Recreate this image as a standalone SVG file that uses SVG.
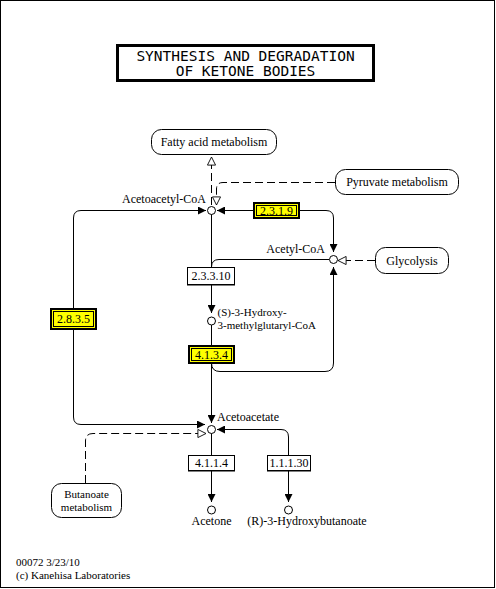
<svg xmlns="http://www.w3.org/2000/svg" width="496" height="589" viewBox="0 0 496 589">
<style>
text{font-family:"Liberation Serif","Times New Roman",serif;font-size:12px;fill:#000}
.t{font-family:"DejaVu Sans Mono","Liberation Mono",monospace;font-size:14.5px}
.s{font-size:11px}
.c{text-anchor:middle}
.e{text-anchor:end}
.ln{fill:none;stroke:#000;stroke-width:1}
.ds{fill:none;stroke:#000;stroke-width:1;stroke-dasharray:8,4}
.cp{fill:#fff;stroke:#000;stroke-width:1}
.map{fill:#fff;stroke:#000;stroke-width:1}
.ez{fill:#fff;stroke:#000;stroke-width:1}
.ey{fill:#ffff00;stroke:#000;stroke-width:2}
.ei{fill:none;stroke:#000;stroke-width:1}
</style>
<defs>
<marker id="af" viewBox="0 0 10 10" refX="10" refY="5" markerWidth="8" markerHeight="8" markerUnits="userSpaceOnUse" orient="auto"><path d="M0,0 L10,5 L0,10 z" fill="#000"/></marker>
<marker id="ao" viewBox="0 0 10 10" refX="9.5" refY="5" markerWidth="9" markerHeight="9" markerUnits="userSpaceOnUse" orient="auto"><path d="M0.5,0.5 L9.5,5 L0.5,9.5 z" fill="#fff" stroke="#000" stroke-width="1"/></marker>
</defs>
<rect x="0.5" y="0.5" width="494" height="587" fill="#fff" stroke="#000"/>
<g id="title">
<rect x="117.5" y="45.5" width="256" height="35" fill="#fff" stroke="#000" stroke-width="3"/>
<text class="t c" x="245.5" y="61">SYNTHESIS AND DEGRADATION</text>
<text class="t c" x="245.5" y="76">OF KETONE BODIES</text>
</g>
<g id="connectors">
<path class="ln" d="M253,210.5 L217,210.5" marker-end="url(#af)"/>
<path class="ln" d="M300,210.5 L326,210.5 Q333.5,210.5 333.5,218 L333.5,252" marker-end="url(#af)"/>
<path class="ln" d="M73.5,308 L73.5,218 Q73.5,210.5 81,210.5 L206,210.5" marker-end="url(#af)"/>
<path class="ln" d="M73.5,330 L73.5,417 Q73.5,424.5 81,424.5 L205,424.5" marker-end="url(#af)"/>
<path class="ln" d="M211.5,214 L211.5,267"/>
<path class="ln" d="M329,259.5 L219,259.5 Q211.5,259.5 211.5,267"/>
<path class="ln" d="M211.5,285 L211.5,313" marker-end="url(#af)"/>
<path class="ln" d="M211.5,325 L211.5,345"/>
<path class="ln" d="M211.5,363 L211.5,423" marker-end="url(#af)"/>
<path class="ln" d="M211.5,363 Q211.5,371.5 220,371.5 L325,371.5 Q333.5,371.5 333.5,363 L333.5,267" marker-end="url(#af)"/>
<path class="ln" d="M211.5,433 L211.5,455"/>
<path class="ln" d="M211.5,471 L211.5,502" marker-end="url(#af)"/>
<path class="ln" d="M288.5,455 L288.5,437 Q288.5,429.5 281,429.5 L217,429.5" marker-end="url(#af)"/>
<path class="ln" d="M288.5,471 L288.5,502" marker-end="url(#af)"/>
<path class="ds" d="M211.5,205 L211.5,157" marker-end="url(#ao)"/>
<path class="ds" d="M335,182.5 L223,182.5 Q216.5,182.5 216.5,189 L216.5,205" marker-end="url(#ao)"/>
<path class="ds" d="M375,260.5 L338,260.5" marker-end="url(#ao)"/>
<path class="ds" d="M85.5,483 L85.5,441 Q85.5,433.5 93,433.5 L206,433.5" marker-end="url(#ao)"/>
</g>
<g id="map-fatty-acid"><rect class="map" x="151.5" y="129.5" width="125" height="25" rx="10"/><text class="c" x="214" y="146">Fatty acid metabolism</text></g>
<g id="map-pyruvate"><rect class="map" x="335.5" y="169.5" width="123" height="25" rx="10"/><text class="c" x="397" y="186">Pyruvate metabolism</text></g>
<g id="map-glycolysis"><rect class="map" x="375.5" y="247.5" width="73" height="26" rx="10"/><text class="c" x="412" y="265">Glycolysis</text></g>
<g id="map-butanoate"><rect class="map" x="51.5" y="483.5" width="70" height="34" rx="10"/><text class="c s" x="86.5" y="498">Butanoate</text><text class="c s" x="86.5" y="511">metabolism</text></g>
<g id="cpd-acetoacetyl-coa"><circle class="cp" cx="211.5" cy="210.5" r="4"/><text class="e" x="206" y="203">Acetoacetyl-CoA</text></g>
<g id="cpd-acetyl-coa"><circle class="cp" cx="333.5" cy="259.5" r="4"/><text class="e" x="325" y="253">Acetyl-CoA</text></g>
<g id="cpd-hmg-coa"><circle class="cp" cx="211.5" cy="321" r="4"/><text class="s" x="217.5" y="315.5">(S)-3-Hydroxy-</text><text class="s" x="217.5" y="328.5">3-methylglutaryl-CoA</text></g>
<g id="cpd-acetoacetate"><circle class="cp" cx="211.5" cy="429.5" r="4"/><text x="217" y="421">Acetoacetate</text></g>
<g id="cpd-acetone"><circle class="cp" cx="211.5" cy="510" r="4"/><text class="c" x="211.5" y="525">Acetone</text></g>
<g id="cpd-3-hydroxybutanoate"><circle class="cp" cx="288.5" cy="510" r="4"/><text class="c" x="307" y="525">(R)-3-Hydroxybutanoate</text></g>
<g id="ec-2.3.1.9"><rect class="ey" x="254" y="203" width="45" height="15"/><rect class="ei" x="256.5" y="205.5" width="40" height="10"/><text class="c" x="276.5" y="215">2.3.1.9</text></g>
<g id="ec-2.8.3.5"><rect class="ey" x="51" y="309" width="45" height="20"/><rect class="ei" x="53.5" y="311.5" width="40" height="15"/><text class="c" x="73.5" y="323">2.8.3.5</text></g>
<g id="ec-4.1.3.4"><rect class="ey" x="189" y="346" width="45" height="17"/><rect class="ei" x="191.5" y="348.5" width="40" height="12"/><text class="c" x="211.5" y="359">4.1.3.4</text></g>
<g id="ec-2.3.3.10"><rect class="ez" x="187.5" y="267.5" width="47" height="17"/><line x1="187" y1="285" x2="235" y2="285" stroke="#000"/><text class="c" x="211" y="280">2.3.3.10</text></g>
<g id="ec-4.1.1.4"><rect class="ez" x="188.5" y="455.5" width="46" height="15"/><line x1="188" y1="471" x2="235" y2="471" stroke="#000"/><text class="c" x="211.5" y="467">4.1.1.4</text></g>
<g id="ec-1.1.1.30"><rect class="ez" x="267.5" y="455.5" width="43" height="15"/><line x1="267" y1="471" x2="311" y2="471" stroke="#000"/><text class="c" x="289" y="467">1.1.1.30</text></g>
<g id="footer"><text class="s" x="16" y="566">00072 3/23/10</text><text class="s" x="16" y="579">(c) Kanehisa Laboratories</text></g>
</svg>
